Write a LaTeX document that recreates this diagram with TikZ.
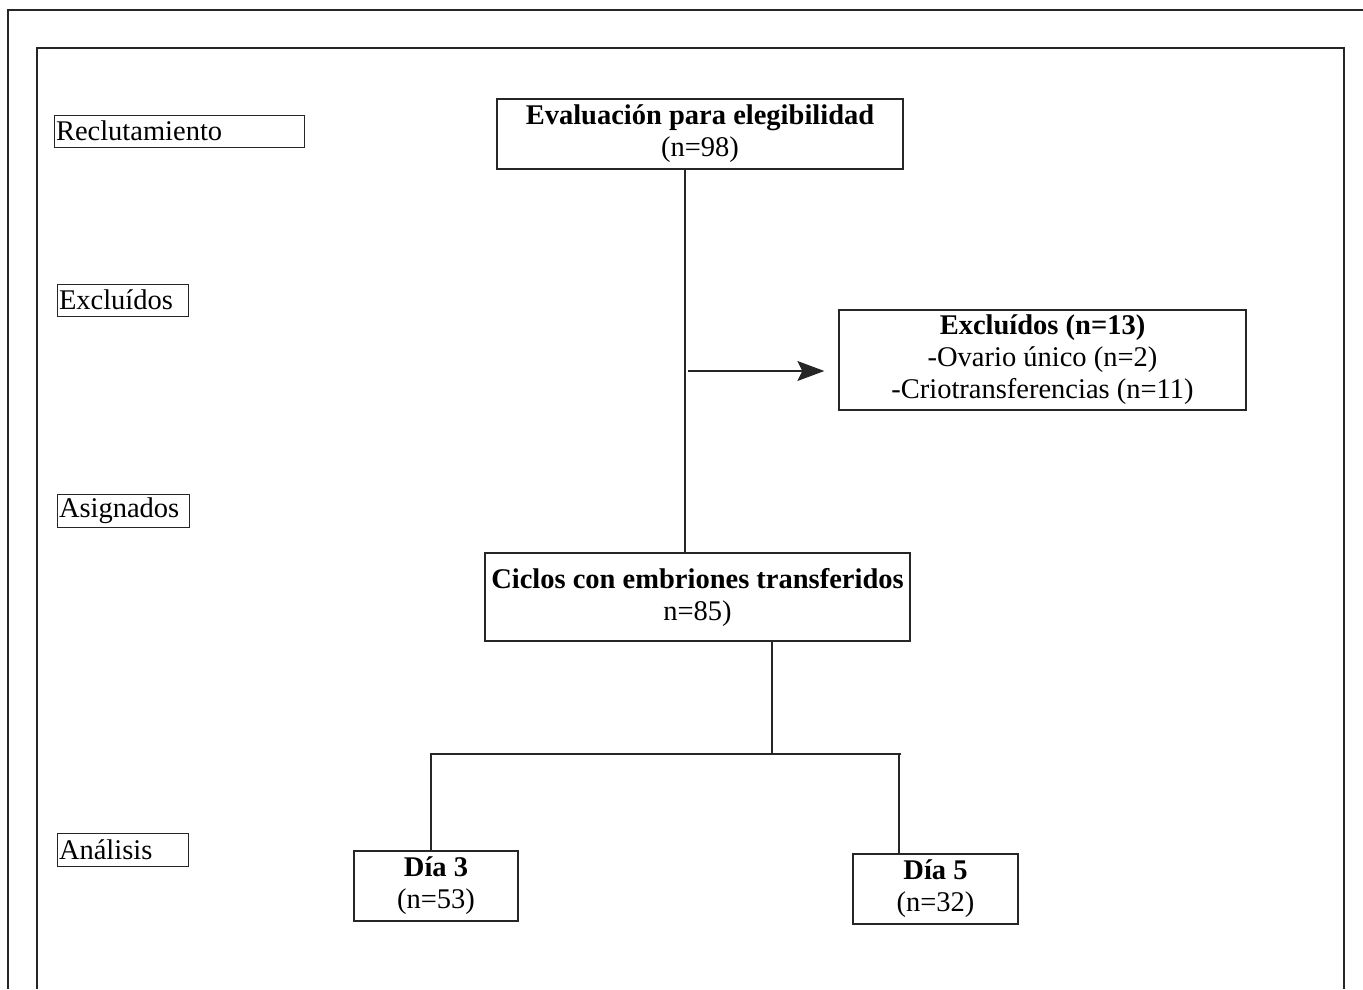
\documentclass[tikz,border=0pt]{standalone}
\usepackage{fontspec}
\setmainfont{Liberation Serif}
\usetikzlibrary{arrows.meta,calc}
\begin{document}
\begin{tikzpicture}[x=1pt,y=-1pt,
  box/.style={draw=black!85,line width=1.3pt,align=center,inner sep=0pt,font=\fontsize{28.5}{32}\selectfont},
  lab/.style={draw=black!85,line width=1pt,inner sep=1pt,align=left,font=\fontsize{28.5}{30}\selectfont,anchor=center},
  conn/.style={draw=black!85,line width=1.3pt},
  frame/.style={draw=black!85,line width=1.6pt}]
\useasboundingbox (0,0) rectangle (1363,989);
% frames
\draw[frame] (8,989) -- (8,10) -- (1363,10);
\draw[frame] (37,989) -- (37,48) -- (1344,48) -- (1344,989);
% stage labels
\node[lab,minimum width=250pt,minimum height=32pt,text width=246pt] (rec) at (179,131) {Reclutamiento};
\node[lab,minimum width=131pt,minimum height=32pt,text width=127pt] (exl) at (122.5,300) {Excluídos};
\node[lab,minimum width=132pt,minimum height=33pt,text width=128pt] (asg) at (123,510.5) {Asignados};
\node[lab,minimum width=131pt,minimum height=33pt,text width=127pt] (ana) at (122.5,849.5) {Análisis};
% main boxes
\node[box,minimum width=406pt,minimum height=70pt] (eval) at (700,134) {\textbf{Evaluación para elegibilidad}\\(n=98)};
\node[box,minimum width=407pt,minimum height=100pt] (excl) at (1042.5,360) {\textbf{Excluídos (n=13)}\\-Ovario único (n=2)\\-Criotransferencias (n=11)};
\node[box,minimum width=425pt,minimum height=88pt] (cic) at (697.5,597) {\textbf{Ciclos con embriones transferidos}\\n=85)};
\node[box,minimum width=164pt,minimum height=70pt] (d3) at (436,886) {\textbf{Día 3}\\(n=53)};
\node[box,minimum width=165pt,minimum height=70pt] (d5) at (935.5,889) {\textbf{Día 5}\\(n=32)};
% connector points
\coordinate (a1) at (eval.south -| 685,0);
\coordinate (a2) at (cic.north -| 685,0);
\coordinate (arS) at (688,371);
\coordinate (arE) at ($(excl.west)+(-14,11)$);
\coordinate (b1) at (cic.south -| 772,0);
\coordinate (b2) at (772,754);
\coordinate (hl) at (430,754);
\coordinate (hr) at (901,754);
\coordinate (l1) at (431,754);
\coordinate (r1) at (899,754);
\draw[conn] (a1) -- (a2);
\draw[conn,-{Stealth[length=27pt,width=20pt,inset=5pt]}] (arS) -- (arE);
\draw[conn] (b1) -- (b2);
\draw[conn] (hl) -- (hr);
\draw[conn] (l1) -- (l1 |- d3.north);
\draw[conn] (r1) -- (r1 |- d5.north);
\end{tikzpicture}
\end{document}
